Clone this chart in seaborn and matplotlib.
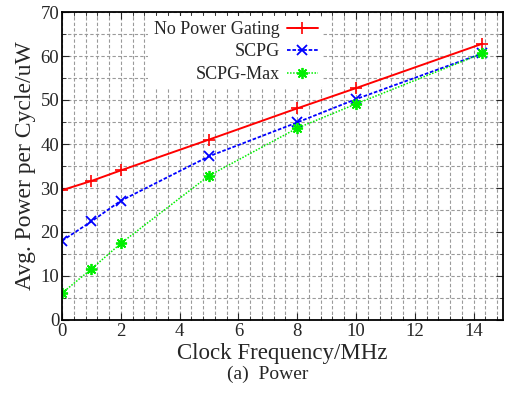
import matplotlib
matplotlib.use("Agg")
import matplotlib.pyplot as plt
from matplotlib.ticker import MultipleLocator
import seaborn as sns
import pandas as pd

freq = [0, 1, 2, 5, 8, 10, 14.3]
no_pg = [29.5, 31.6, 34.0, 41.0, 48.1, 52.7, 62.8]
scpg = [18.0, 22.4, 27.1, 37.2, 44.9, 50.2, 60.6]
scpg_max = [6.1, 11.6, 17.4, 32.8, 43.6, 49.1, 60.6]
series_names = ["No Power Gating", "SCPG", "SCPG-Max"]

sns.set_style("ticks")
plt.rcParams["font.family"] = ["Liberation Serif", "DejaVu Serif"]
plt.rcParams["mathtext.fontset"] = "stix"

fig = plt.figure(figsize=(5.05, 3.95), dpi=100)
ax = fig.add_axes([62/505, 75/395, 441/505, 308/395])

styles = [
    dict(color="#ff0000", ls="-", marker="+", ms=8, mew=1.2, lw=1.4),
    dict(color="#0000ff", ls=(0, (2, 1)), marker="x", ms=6.5, mew=1.3, lw=1.3),
    dict(color="#00ee00", ls=(0, (1, 1)), marker=(8, 2, 0), ms=8, mew=1.3, lw=1.1),
]
for name, vals, st in zip(series_names, [no_pg, scpg, scpg_max], styles):
    df = pd.DataFrame({"x": freq, "y": vals})
    sns.lineplot(data=df, x="x", y="y", ax=ax, label=name, color=st["color"])
    ln = ax.lines[-1]
    ln.set_linestyle(st["ls"])
    ln.set_linewidth(st["lw"])
    ln.set_marker(st["marker"])
    ln.set_markersize(st["ms"])
    ln.set_markeredgewidth(st["mew"])
    ln.set_markeredgecolor(st["color"])
    ln.set_markerfacecolor(st["color"])

ax.set_xlim(0, 15)
ax.set_ylim(0, 70)
ax.xaxis.set_major_locator(MultipleLocator(2))
ax.xaxis.set_minor_locator(MultipleLocator(0.4))
ax.yaxis.set_major_locator(MultipleLocator(10))
ax.yaxis.set_minor_locator(MultipleLocator(5))
ax.grid(which="both", color="#9a9a9a", linestyle=(0, (3, 2)), linewidth=0.8)
ax.set_axisbelow(True)
ax.tick_params(which="both", direction="in", top=True, right=True, labelsize=13.5, pad=2)
ax.tick_params(which="major", length=5)
ax.tick_params(which="minor", length=3)
for s in ax.spines.values():
    s.set_linewidth(1.3)
    s.set_color("black")

ax.set_xlabel("Clock Frequency/MHz", fontsize=16.5, labelpad=2)
ax.set_ylabel("Avg. Power per Cycle/uW", fontsize=17, labelpad=3)
fig.text(268/505, 12/395, "(a)  Power", ha="center", va="bottom", fontsize=14)

leg = ax.legend(loc="upper right", bbox_to_anchor=(0.6, 1.0), markerfirst=False,
                frameon=True, fontsize=13, handlelength=1.7, handletextpad=0.4,
                borderaxespad=0.2, labelspacing=0.3, borderpad=0.3)
leg.get_frame().set_edgecolor("none")
leg.get_frame().set_facecolor("white")
leg.get_frame().set_alpha(1)
for t in leg.get_texts():
    t.set_ha("right")
leg._legend_box.align = "right"

fig.savefig("out.png", dpi=100)
